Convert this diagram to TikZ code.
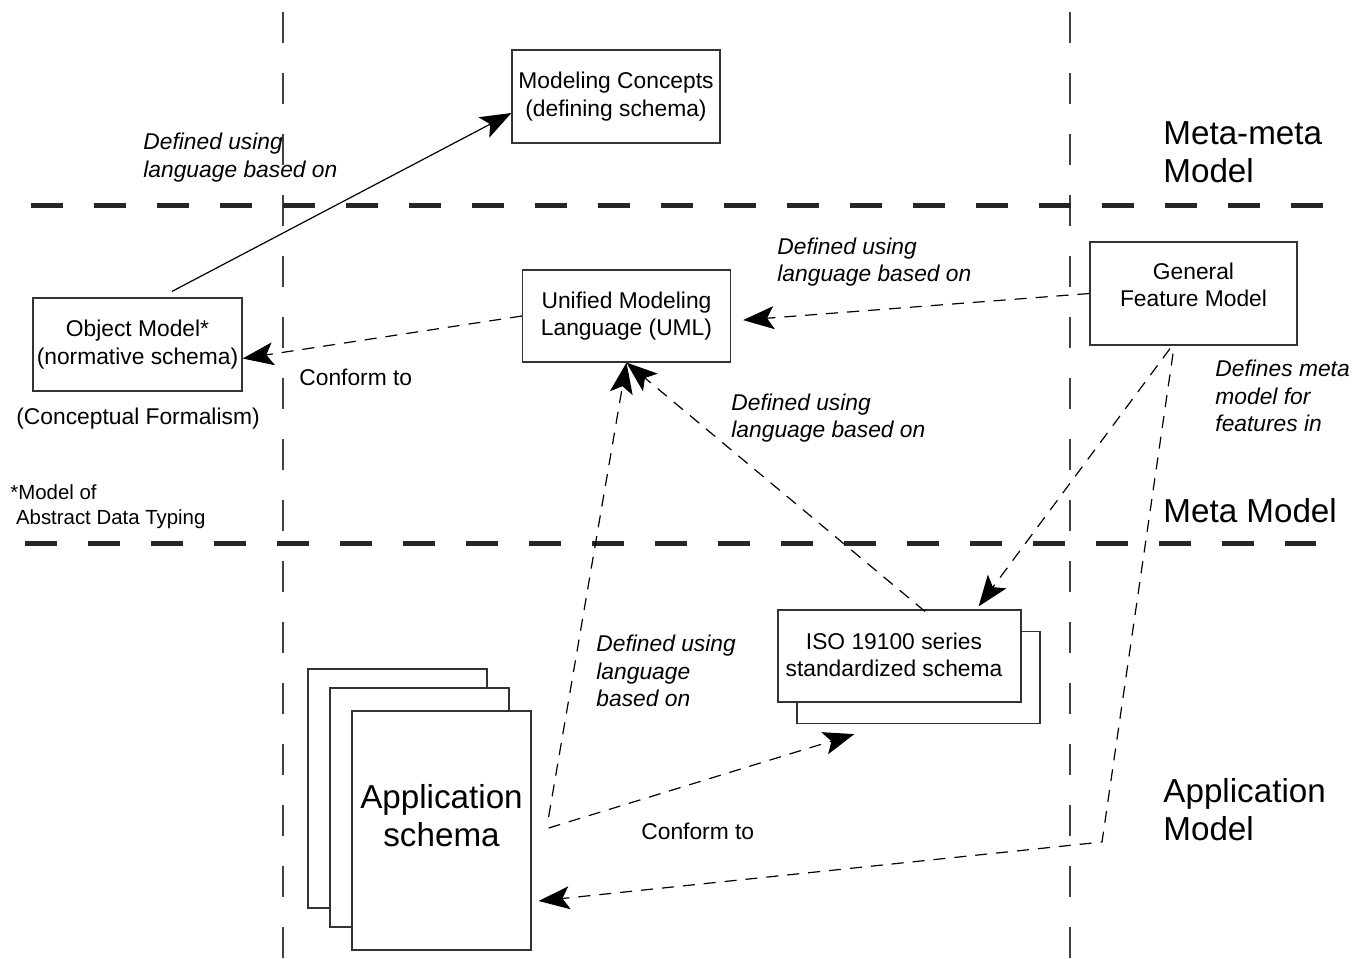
\documentclass[tikz,border=0pt]{standalone}
\usepackage{fontspec}
\setmainfont{Liberation Sans}
\usetikzlibrary{arrows.meta,positioning,calc}

\newcommand{\txtfont}{\fontsize{11.4}{13.75}\selectfont}
\newcommand{\lvlfont}{\fontsize{16.6}{19}\selectfont}
\newcommand{\fnfont}{\fontsize{10.2}{12.5}\selectfont}

\tikzset{
  box/.style={draw=black!80, fill=white, line width=0.6pt, inner sep=0pt, align=center, font=\txtfont},
  page/.style={box, minimum width=89.5pt, minimum height=119.5pt},
  note/.style={anchor=west, align=left, inner sep=0pt, font=\txtfont},
  sepline/.style={draw=black!75, line width=0.75pt, dash pattern=on 15.5pt off 15pt},
  levelline/.style={draw=black!85, line width=2.5pt, dash pattern=on 15.75pt off 15.75pt},
  tip/.style={-{Stealth[length=15.5pt, width=11.5pt, inset=3.5pt]}},
  solidarrow/.style={tip, line width=0.6pt},
  dasharrow/.style={tip, line width=0.6pt, dash pattern=on 6pt off 4.5pt}
}

\begin{document}
\begin{tikzpicture}[x=0.5pt,y=-0.5pt]
  \useasboundingbox (0,0) rectangle (1364,958);

  % level separators
  \draw[sepline] (283,12) -- (283,958);
  \draw[sepline] (1070,12) -- (1070,958);
  \draw[levelline] (31,205) -- (1326,205);
  \draw[levelline] (25,543) -- (1316,543);

  % boxes
  \node[box, minimum width=104pt, minimum height=46.5pt] (mc) at (616,96.5) {Modeling Concepts\\(defining schema)};
  \node[box, minimum width=104pt, minimum height=46pt] (uml) at (626.5,316) {Unified Modeling\\Language (UML)};
  \node[box, minimum width=104.5pt, minimum height=46.5pt] (om) at (137.5,344.5) {Object Model*\\(normative schema)};
  \node[box, minimum width=103.5pt, minimum height=51.5pt] (gfm) at (1193.5,293.5) {};
  \node[align=center, inner sep=0pt, font=\txtfont] (gfmtext) at (1193.5,285) {General\\Feature Model};
  \node[box, minimum width=121.5pt, minimum height=46pt] (isob) at (918.5,677.5) {};
  \node[box, minimum width=121.5pt, minimum height=46pt] (isof) at (899.5,656) {};
  \node[align=center, inner sep=0pt, font=\txtfont] (isotext) at (894,655) {ISO 19100 series\\standardized schema};
  \node[page] (p1) at (397.5,788.5) {};
  \node[page] (p2) at (419.5,807.5) {};
  \node[page] (p3) at (441.5,830.5) {};
  \node[align=center, inner sep=0pt, font=\lvlfont] (apptext) at (441.5,816) {Application\\schema};

  % labels
  \node[note, font=\txtfont\itshape] (defa) at (143,157.5) {Defined using\\language based on};
  \node[note, font=\txtfont\itshape] (defb) at (777,262) {Defined using\\language based on};
  \node[note, font=\txtfont\itshape] (defc) at (731,418) {Defined using\\language based on};
  \node[note, font=\txtfont\itshape] (defd) at (596,671) {Defined using\\language\\based on};
  \node[note, font=\txtfont\itshape] (defe) at (1215,396) {Defines meta\\model for\\features in};
  \node[note] (confa) at (299,377) {Conform to};
  \node[note] (confb) at (641,831) {Conform to};
  \node[note] (formal) at (16,419) {(Conceptual Formalism)};
  \node[note, font=\fnfont] (adt) at (10,507) {*Model of\\\ Abstract Data Typing};
  \node[note, font=\lvlfont] (lvla) at (1163,152) {Meta-meta\\Model};
  \node[note, font=\lvlfont] (lvlb) at (1163,511) {Meta Model};
  \node[note, font=\lvlfont] (lvlc) at (1163,810) {Application\\Model};

  % connectors
  \coordinate (omout) at ($(om.north)+(34.5,-6)$);
  \draw[solidarrow] (omout) -- ($(mc.west)+(0,16.5)$);
  \draw[dasharrow, shorten >=6pt] (gfm.west) -- ($(uml.east)+(0,5)$);
  \draw[dasharrow] (uml.west) -- ($(om.east)+(0,14)$);
  \coordinate (isoout) at ($(isof.north)+(25.5,2)$);
  \draw[dasharrow] (isoout) -- (uml.south);
  \coordinate (appup) at ($(p3.east)+(17,-13.5)$);
  \coordinate (appright) at ($(p3.east)+(17,-2.5)$);
  \coordinate (isoin) at ($(isob.south west)+(58,10)$);
  \draw[dasharrow] (appup) -- (uml.south);
  \draw[dasharrow] (appright) -- (isoin);
  \coordinate (gfmout1) at ($(gfm.south)+(-23.5,3)$);
  \coordinate (gfmout2) at ($(gfm.south)+(-20.5,8)$);
  \coordinate (bend) at (1102,842);
  \draw[dasharrow] (gfmout1) -- ($(isof.north east)+(-43,-3)$);
  \draw[dasharrow] (gfmout2) -- (bend) -- ($(p3.east)+(7,70.5)$);
\end{tikzpicture}
\end{document}
